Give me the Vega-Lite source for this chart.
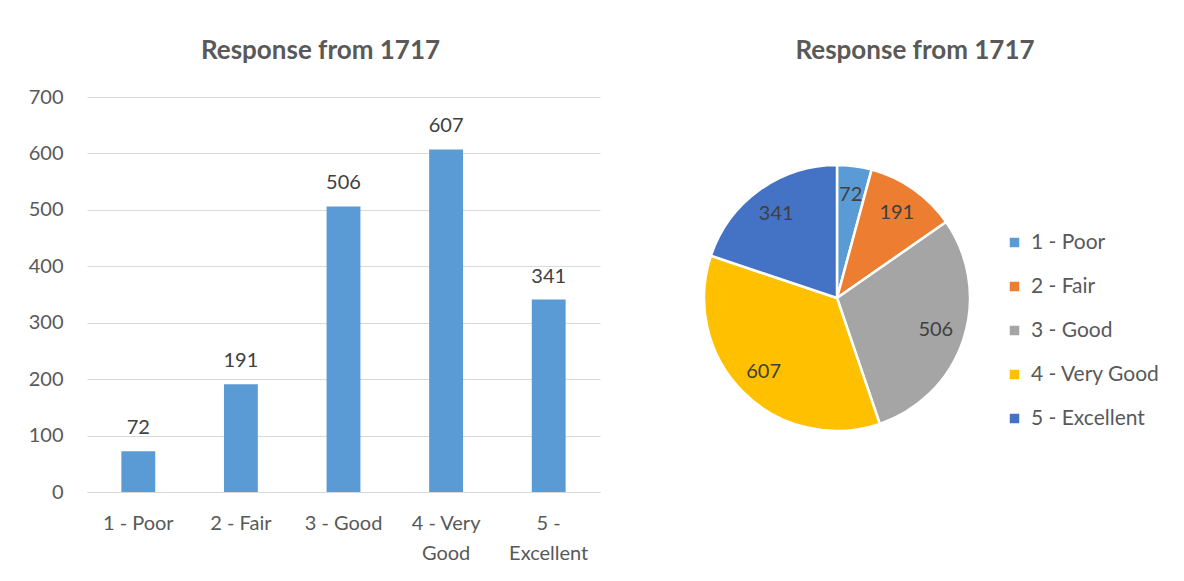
{
  "$schema": "https://vega.github.io/schema/vega-lite/v6.json",
  "padding": {"left": 28, "top": 38, "right": 0, "bottom": 0},
  "background": "white",
  "datasets": {
    "resp": [
      {"rating": "1 - Poor", "count": 72},
      {"rating": "2 - Fair", "count": 191},
      {"rating": "3 - Good", "count": 506},
      {"rating": "4 - Very Good", "count": 607},
      {"rating": "5 - Excellent", "count": 341}
    ]
  },
  "config": {
    "font": "Lato",
    "view": {"stroke": null},
    "title": {"font": "Lato", "fontSize": 26, "fontWeight": "bold", "color": "#595959", "anchor": "middle"},
    "axis": {"labelFont": "Lato", "labelFontSize": 20, "labelColor": "#595959", "ticks": false, "title": null}
  },
  "resolve": {"legend": {"color": "independent"}, "scale": {"color": "independent"}},
  "spacing": 87,
  "hconcat": [
    {
      "title": {"text": "Response from 1717", "offset": 23, "dx": -23},
      "width": 513,
      "height": 395,
      "data": {"name": "resp"},
      "encoding": {
        "x": {
          "field": "rating", "type": "nominal", "sort": null,
          "scale": {"paddingInner": 0.67, "paddingOuter": 0.335},
          "axis": {
            "labelAngle": 0, "labelPadding": 21, "domainColor": "#d9d9d9", "domainWidth": 1,
            "labelLineHeight": 30, "labelBaseline": "top",
            "labelExpr": "datum.label == '4 - Very Good' ? ['4 - Very', 'Good'] : datum.label == '5 - Excellent' ? ['5 -', 'Excellent'] : datum.label"
          }
        },
        "y": {
          "field": "count", "type": "quantitative",
          "scale": {"domain": [0, 700]},
          "axis": {"values": [0, 100, 200, 300, 400, 500, 600, 700], "domain": false, "gridColor": "#d9d9d9", "labelPadding": 24}
        }
      },
      "layer": [
        {"mark": {"type": "bar", "color": "#5B9BD5"}},
        {"mark": {"type": "text", "baseline": "bottom", "dy": -13, "fontSize": 20, "color": "#404040", "font": "Lato"},
         "encoding": {"text": {"field": "count", "type": "quantitative"}}}
      ]
    },
    {
      "title": {"text": "Response from 1717", "offset": 33, "dx": 78},
      "width": 300,
      "height": 402,
      "data": {"name": "resp"},
      "encoding": {
        "theta": {"field": "count", "type": "quantitative", "stack": true},
        "order": {"field": "rating", "type": "nominal", "sort": "ascending"}
      },
      "layer": [
        {
          "mark": {"type": "arc", "outerRadius": 133, "stroke": "white", "strokeWidth": 2.5},
          "encoding": {
            "color": {
              "field": "rating", "type": "nominal",
              "scale": {"domain": ["1 - Poor", "2 - Fair", "3 - Good", "4 - Very Good", "5 - Excellent"],
                        "range": ["#5B9BD5", "#ED7D31", "#A5A5A5", "#FFC000", "#4472C4"]},
              "legend": {
                "title": null, "orient": "none", "legendX": 317, "legendY": 135, "padding": 0,
                "symbolType": "square", "symbolSize": 90, "symbolStrokeWidth": 0,
                "labelFont": "Lato", "labelFontSize": 21, "labelColor": "#595959",
                "rowPadding": 22, "labelOffset": 6
              }
            }
          }
        },
        {
          "mark": {"type": "text", "radius": 104, "fontSize": 20, "color": "#404040", "font": "Lato"},
          "encoding": {"text": {"field": "count", "type": "quantitative"}}
        }
      ]
    }
  ]
}
